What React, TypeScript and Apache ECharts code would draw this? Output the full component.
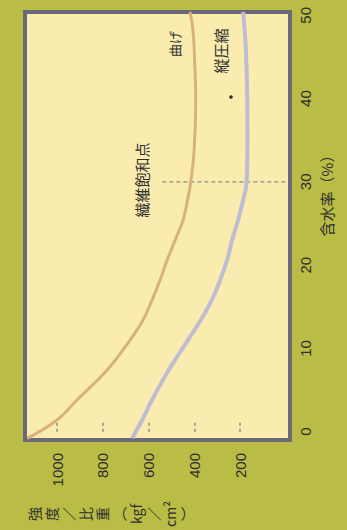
import React, { useEffect, useRef } from "react";
import * as echarts from "echarts";

// 強度/比重 (kgf/cm²) vs 含水率 (%)
const strengthTicks = [200, 400, 600, 800, 1000];
const moistureTicks = [0, 10, 20, 30, 40, 50];

// [強度/比重, 含水率]
const bendingCurve: [number, number][] = [
  [1130, -0.8], [1000, 1.4], [913, 3.8], [781, 7.4], [681, 11.0], [624, 13.4],
  [585, 15.8], [550, 18.2], [519, 20.6], [484, 23.0], [449, 25.4], [430, 27.8],
  [416, 29.9], [401, 33.8], [394, 39.8], [398, 44.0], [406, 48.2], [419, 50.4],
];
const compressionCurve: [number, number][] = [
  [672, -0.8], [628, 1.4], [585, 3.8], [512, 7.4], [428, 11.0], [372, 13.4],
  [324, 15.8], [287, 18.2], [257, 20.6], [235, 23.0], [209, 25.4], [187, 27.8],
  [172, 29.9], [168, 35.0], [169, 40.0], [175, 46.0], [187, 50.4],
];
const fiberSaturationLine: [number, number][] = [
  [540, 30], [0, 30],
];

export default function App() {
  const ref = useRef<HTMLDivElement>(null);
  useEffect(() => {
    if (!ref.current) return;
    const chart = echarts.init(ref.current, undefined, { renderer: "svg" });
    const textColor = "#2e2e2e";
    const font = "'Noto Sans CJK JP', 'Noto Sans', sans-serif";
    chart.setOption({
      animation: false,
      backgroundColor: "#b9bc45",
      grid: {
        left: 25,
        right: 57,
        top: 12,
        bottom: 90,
        show: true,
        backgroundColor: "#f9ecae",
        borderColor: "#6b6977",
        borderWidth: 4,
      },
      xAxis: {
        type: "value",
        inverse: true,
        min: -18,
        max: 1140,
        axisLine: { show: false },
        splitLine: { show: false },
        axisTick: {
          show: true,
          inside: true,
          length: 12,
          customValues: strengthTicks,
          lineStyle: { color: "#8a8990", width: 1.5, type: [3, 3] },
        },
        axisLabel: {
          customValues: strengthTicks,
          formatter: (v: number) => String(v),
          rotate: 90,
          margin: 13,
          fontSize: 15,
          color: textColor,
          fontFamily: "'Liberation Sans', Arial, sans-serif",
        },
      },
      yAxis: {
        type: "value",
        position: "right",
        min: -1,
        max: 50.4,
        axisLine: { show: false },
        splitLine: { show: false },
        axisTick: { show: false },
        axisLabel: {
          customValues: moistureTicks,
          formatter: (v: number) => String(v),
          rotate: 90,
          margin: 8,
          fontSize: 15,
          color: textColor,
          fontFamily: "'Liberation Sans', Arial, sans-serif",
        },
      },
      series: [
        {
          type: "line",
          data: fiberSaturationLine,
          symbol: "none",
          lineStyle: { color: "#8c8a8a", width: 1.2, type: [4, 3] },
          z: 1,
        },
        {
          type: "line",
          data: bendingCurve,
          smooth: 0.4,
          symbol: "none",
          lineStyle: { color: "#d8b27c", width: 3 },
          z: 2,
        },
        {
          type: "line",
          data: compressionCurve,
          smooth: 0.4,
          symbol: "none",
          lineStyle: { color: "#bfbdd3", width: 4 },
          z: 2,
        },
      ],
      graphic: [
        {
          type: "text", x: 174, y: 44, rotation: Math.PI / 2,
          style: { text: "曲げ", fontSize: 13, fill: textColor, align: "center", verticalAlign: "middle", fontFamily: font },
        },
        {
          type: "text", x: 220, y: 51, rotation: Math.PI / 2,
          style: { text: "縦圧縮", fontSize: 15, fill: textColor, align: "center", verticalAlign: "middle", fontFamily: font },
        },
        {
          type: "circle", shape: { cx: 231, cy: 97, r: 1.8 }, style: { fill: "#2e2e2e" },
        },
        {
          type: "text", x: 141, y: 180, rotation: Math.PI / 2,
          style: { text: "繊維飽和点", fontSize: 15, fill: textColor, align: "center", verticalAlign: "middle", fontFamily: font },
        },
        {
          type: "text", x: 326, y: 192, rotation: Math.PI / 2,
          style: { text: "含水率（%）", fontSize: 15, fill: textColor, align: "center", verticalAlign: "middle", fontFamily: font },
        },
        {
          type: "text", x: 110, y: 514, rotation: Math.PI / 2,
          style: {
            text: "強\n度\n／\n比\n重\n︵\nkgf\n／\ncm²\n︶",
            fontSize: 14, lineHeight: 17, fill: textColor,
            align: "center", verticalAlign: "middle", fontFamily: font,
          },
        },
      ],
    });
    return () => chart.dispose();
  }, []);
  return (
    <div
      ref={ref}
      style={{ position: "fixed", left: 0, top: 0, width: 347, height: 530 }}
    />
  );
}
